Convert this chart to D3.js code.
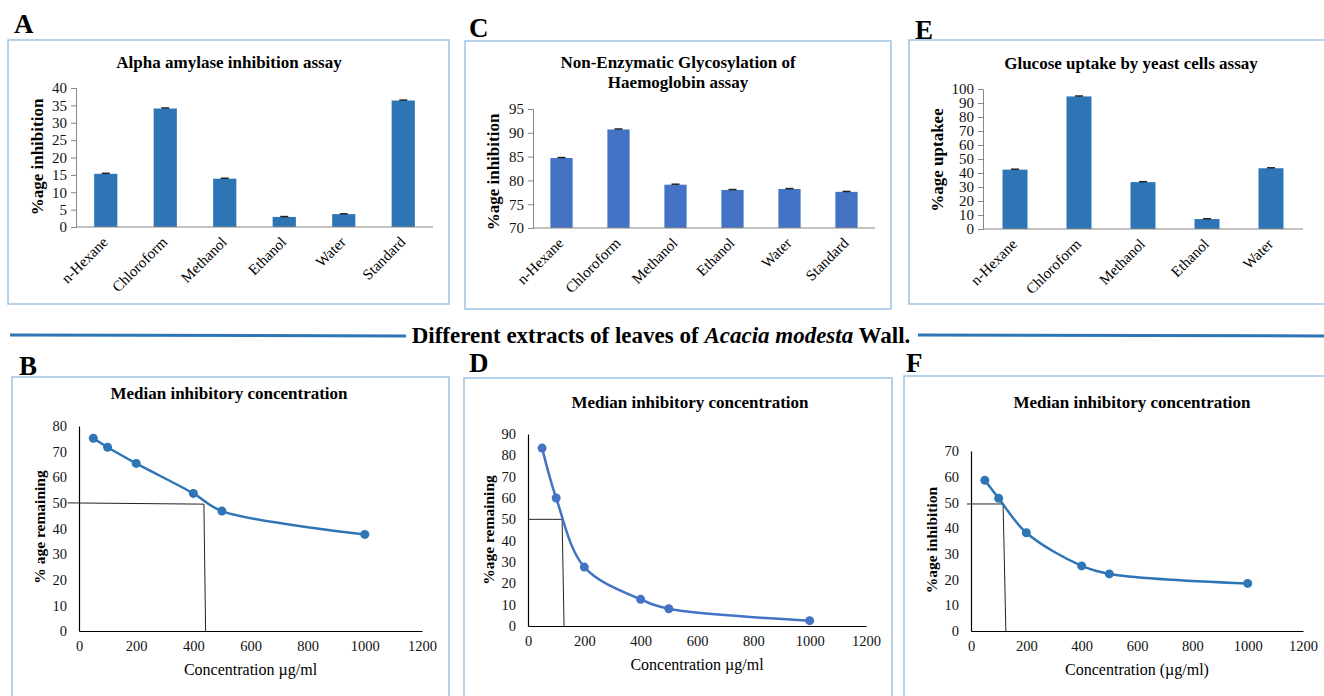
<!DOCTYPE html>
<html>
<head>
<meta charset="utf-8">
<script src="https://cdn.jsdelivr.net/npm/d3@7"></script>
<style>
  body { margin: 0; background: #fff; }
  svg text { font-family: "Liberation Serif", "Times New Roman", Tinos, "DejaVu Serif", serif; }
</style>
</head>
<body>
<div id="chart"></div>
<script>
// bar chart data
var cats = ["n-Hexane", "Chloroform", "Methanol", "Ethanol", "Water", "Standard"];
var catsE = ["n-Hexane", "Chloroform", "Methanol", "Ethanol", "Water"];
var amylase = [15.3, 34.1, 13.9, 2.9, 3.7, 36.4];
var amylaseErr = [0.15, 0.15, 0.12, 0.1, 0.1, 0.12];
var glycosylation = [84.7, 90.7, 79.1, 78.0, 78.2, 77.6];
var glycosylationErr = [0.1, 0.1, 0.1, 0.08, 0.08, 0.08];
var glucose = [42.4, 94.7, 33.5, 7.1, 43.4];
var glucoseErr = [0.3, 0.3, 0.3, 0.2, 0.3];

// IC50 data
var conc = [50, 100, 200, 400, 500, 1000];
var remainB = [75.2, 71.7, 65.4, 53.7, 46.8, 37.7];
var remainD = [83.4, 60, 27.6, 12.5, 8.1, 2.5];
var inhibF = [58.6, 51.6, 38.2, 25.3, 22.2, 18.5];
// IC50 guide lines [conc, value]
var guideB = [[-40, 50], [437, 49.5], [443, 0]];
var guideD = [[0, 50], [121, 50], [128, 0]];
var guideF = [[-15, 49.4], [116, 49.4], [126, 0]];

var FONT = "Liberation Serif, Times New Roman, serif";

var svg = d3.select("#chart").append("svg")
    .attr("width", 1324)
    .attr("height", 696)
    .attr("font-family", FONT);

function frame(box, letter, lx, ly) {
    svg.append("rect")
        .attr("x", box[0]).attr("y", box[1])
        .attr("width", box[2] - box[0]).attr("height", box[3] - box[1])
        .attr("fill", "none")
        .attr("stroke", "#9dc3e6")
        .attr("stroke-width", 1.5);
    svg.append("text")
        .attr("x", lx).attr("y", ly)
        .attr("font-size", 27).attr("font-weight", "bold")
        .text(letter);
}

function barPanel(o) {
    frame(o.box, o.letter, o.lx, o.ly);
    var g = svg.append("g");

    var x = d3.scaleBand().domain(o.cats).range([o.x0, o.x1])
        .paddingInner(0.61).paddingOuter(0.305);
    var y = d3.scaleLinear().domain(o.domain).range([o.y0, o.y1]);

    o.title.forEach(function(t, i) {
        g.append("text")
            .attr("x", o.tx).attr("y", o.ty + i * 20)
            .attr("text-anchor", "middle")
            .attr("font-size", 17).attr("font-weight", "bold")
            .text(t);
    });

    g.selectAll(".bar").data(o.vals).enter().append("rect")
        .attr("x", function(d, i) { return x(o.cats[i]); })
        .attr("y", function(d) { return y(d); })
        .attr("width", x.bandwidth())
        .attr("height", function(d) { return y(o.domain[0]) - y(d); })
        .attr("fill", o.color);

    // error caps
    var err = g.selectAll(".err").data(o.vals).enter().append("g");
    err.append("line")
        .attr("x1", function(d, i) { return x(o.cats[i]) + x.bandwidth() / 2; })
        .attr("x2", function(d, i) { return x(o.cats[i]) + x.bandwidth() / 2; })
        .attr("y1", function(d, i) { return y(d - o.errs[i]); })
        .attr("y2", function(d, i) { return y(d + o.errs[i]); })
        .attr("stroke", "#222").attr("stroke-width", 1);
    err.append("line")
        .attr("x1", function(d, i) { return x(o.cats[i]) + x.bandwidth() / 2 - 4; })
        .attr("x2", function(d, i) { return x(o.cats[i]) + x.bandwidth() / 2 + 4; })
        .attr("y1", function(d, i) { return y(d + o.errs[i]); })
        .attr("y2", function(d, i) { return y(d + o.errs[i]); })
        .attr("stroke", "#222").attr("stroke-width", 1.5);

    var yAxis = d3.axisLeft(y).tickValues(d3.range(o.domain[0], o.domain[1] + 0.01, o.step))
        .tickSize(5).tickPadding(4).tickFormat(d3.format("d"));
    var ya = g.append("g").attr("transform", "translate(" + o.x0 + ",0)").call(yAxis)
        .attr("font-family", FONT);
    ya.selectAll("path, line").attr("stroke", "#868686");
    ya.selectAll("text").attr("font-size", 15).attr("fill", "#111");

    g.append("line")
        .attr("x1", o.x0).attr("x2", o.x1)
        .attr("y1", y(o.domain[0])).attr("y2", y(o.domain[0]))
        .attr("stroke", "#868686");

    g.selectAll(".cat").data(o.cats).enter().append("text")
        .attr("transform", function(d) {
            return "translate(" + (x(d) + x.bandwidth() / 2 + 3) + "," + (y(o.domain[0]) + 16) + ") rotate(-45)";
        })
        .attr("text-anchor", "end")
        .attr("font-size", 15)
        .text(function(d) { return d; });

    g.append("text")
        .attr("transform", "translate(" + o.yx + "," + o.yy + ") rotate(-90)")
        .attr("text-anchor", "middle")
        .attr("font-size", 17).attr("font-weight", "bold")
        .text(o.yTitle);
}

function linePanel(o) {
    frame(o.box, o.letter, o.lx, o.ly);
    var g = svg.append("g");

    var x = d3.scaleLinear().domain([0, 1200]).range([o.x0, o.x1]);
    var y = d3.scaleLinear().domain([0, o.ymax]).range([o.y0, o.y1]);

    g.append("text")
        .attr("x", o.tx).attr("y", o.ty)
        .attr("text-anchor", "middle")
        .attr("font-size", 17).attr("font-weight", "bold")
        .text("Median inhibitory concentration");

    var xa = g.append("g").attr("transform", "translate(0," + o.y0 + ")")
        .call(d3.axisBottom(x).tickValues(d3.range(0, 1201, 200)).tickSize(0).tickPadding(10)
            .tickFormat(d3.format("d")));
    var ya = g.append("g").attr("transform", "translate(" + o.x0 + ",0)")
        .call(d3.axisLeft(y).tickValues(d3.range(0, o.ymax + 1, 10)).tickSize(0).tickPadding(12)
            .tickFormat(d3.format("d")));
    [xa, ya].forEach(function(a) {
        a.attr("font-family", FONT);
        a.select(".domain").attr("stroke", "#000").attr("stroke-width", 1.2);
        a.selectAll("text").attr("font-size", 14.5).attr("fill", "#111");
    });

    g.append("path")
        .datum(o.guide)
        .attr("fill", "none").attr("stroke", "#222").attr("stroke-width", 1)
        .attr("d", d3.line().x(function(d) { return x(d[0]); }).y(function(d) { return y(d[1]); }));

    var pts = conc.map(function(c, i) { return [c, o.vals[i]]; });
    g.append("path")
        .datum(pts)
        .attr("fill", "none").attr("stroke", o.color).attr("stroke-width", 2.5)
        .attr("d", d3.line().curve(d3.curveCatmullRom.alpha(0.5))
            .x(function(d) { return x(d[0]); }).y(function(d) { return y(d[1]); }));
    g.selectAll(".dot").data(pts).enter().append("circle")
        .attr("cx", function(d) { return x(d[0]); })
        .attr("cy", function(d) { return y(d[1]); })
        .attr("r", 4.5)
        .attr("fill", o.color);

    g.append("text")
        .attr("x", (o.x0 + o.x1) / 2).attr("y", o.y0 + 44)
        .attr("text-anchor", "middle")
        .attr("font-size", 16)
        .text(o.xTitle);

    g.append("text")
        .attr("transform", "translate(" + o.yx + "," + o.yy + ") rotate(-90)")
        .attr("text-anchor", "middle")
        .attr("font-size", 15.5).attr("font-weight", "bold")
        .text(o.yTitle);
}

barPanel({box: [8, 40, 449, 304], letter: "A", lx: 14, ly: 33,
    cats: cats, vals: amylase, errs: amylaseErr, color: "#2e75b6",
    x0: 76, x1: 433, y0: 227, y1: 88, domain: [0, 40], step: 5,
    title: ["Alpha amylase inhibition assay"], tx: 229, ty: 68,
    yTitle: "%age inhibition", yx: 43, yy: 157});

barPanel({box: [465, 41, 891, 309], letter: "C", lx: 469, ly: 37,
    cats: cats, vals: glycosylation, errs: glycosylationErr, color: "#4472c4",
    x0: 533, x1: 875, y0: 228, y1: 109, domain: [70, 95], step: 5,
    title: ["Non-Enzymatic Glycosylation of", "Haemoglobin assay"], tx: 678, ty: 68,
    yTitle: "%age inhibition", yx: 499, yy: 172});

barPanel({box: [909, 40, 1330, 304], letter: "E", lx: 915, ly: 39,
    cats: catsE, vals: glucose, errs: glucoseErr, color: "#2e75b6",
    x0: 983, x1: 1303, y0: 229, y1: 89, domain: [0, 100], step: 10,
    title: ["Glucose uptake by yeast cells assay"], tx: 1131, ty: 69,
    yTitle: "%age uptakee", yx: 943, yy: 160});

// divider
svg.append("line").attr("x1", 10).attr("x2", 406).attr("y1", 335).attr("y2", 336)
    .attr("stroke", "#2e75b6").attr("stroke-width", 3);
svg.append("line").attr("x1", 918).attr("x2", 1324).attr("y1", 335).attr("y2", 336)
    .attr("stroke", "#2e75b6").attr("stroke-width", 3);
var div = svg.append("text").attr("x", 661).attr("y", 343)
    .attr("text-anchor", "middle").attr("font-size", 23).attr("font-weight", "bold");
div.append("tspan").text("Different extracts of leaves of ");
div.append("tspan").attr("font-style", "italic").text("Acacia modesta");
div.append("tspan").text(" Wall.");

linePanel({box: [12, 377, 449, 720], letter: "B", lx: 19, ly: 375,
    vals: remainB, guide: guideB, color: "#2e75b6", ymax: 80,
    x0: 79, x1: 422, y0: 631, y1: 426, tx: 229, ty: 399,
    xTitle: "Concentration \u00b5g/ml",
    yTitle: "% age remaining", yx: 45, yy: 527});

linePanel({box: [464, 378, 892, 720], letter: "D", lx: 469, ly: 372,
    vals: remainD, guide: guideD, color: "#4472c4", ymax: 90,
    x0: 528, x1: 866, y0: 626, y1: 434, tx: 690, ty: 408,
    xTitle: "Concentration \u00b5g/ml",
    yTitle: "%age remaining", yx: 494, yy: 530});

linePanel({box: [904, 376, 1330, 720], letter: "F", lx: 906, ly: 372,
    vals: inhibF, guide: guideF, color: "#2e75b6", ymax: 70,
    x0: 971, x1: 1303, y0: 631, y1: 451, tx: 1132, ty: 408,
    xTitle: "Concentration (\u00b5g/ml)",
    yTitle: "%age inhibition", yx: 937, yy: 540});
</script>
</body>
</html>
